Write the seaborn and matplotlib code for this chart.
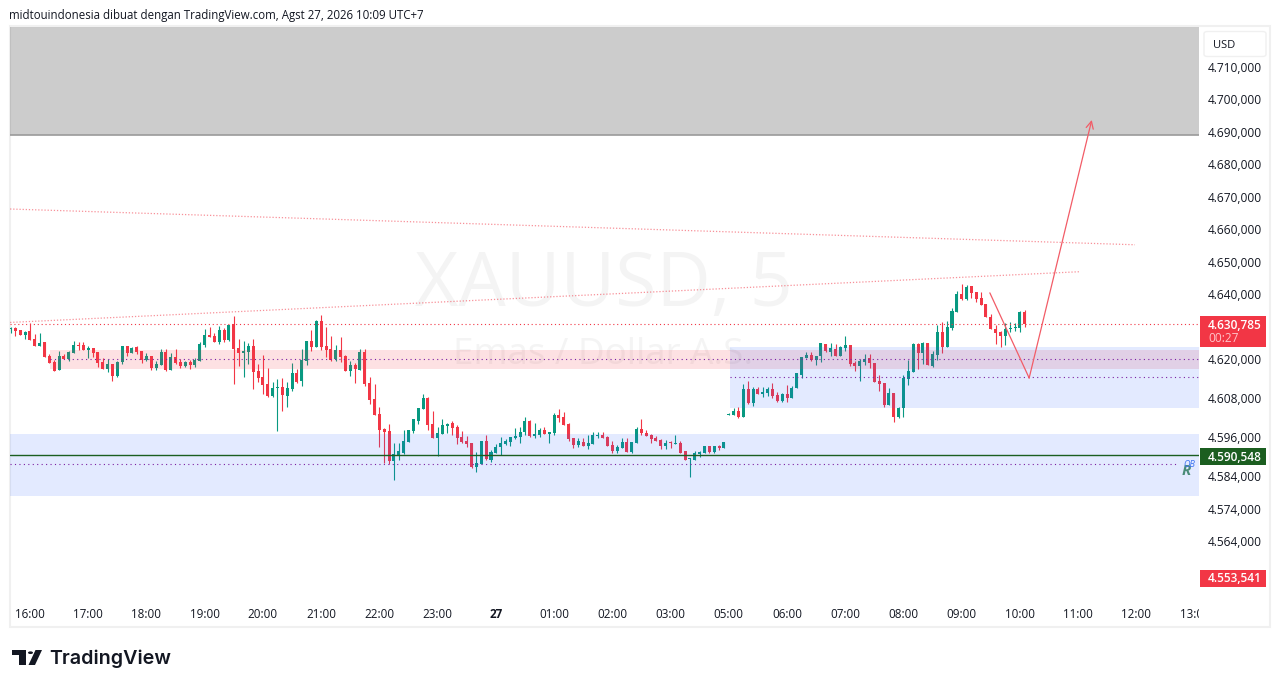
"""XAUUSD 5m candles with zones, levels and a drawn path, TradingView style."""
import numpy as np
import pandas as pd
import matplotlib
matplotlib.use("Agg")
import matplotlib.pyplot as plt
import seaborn as sns
from matplotlib.patches import Rectangle, FancyBboxPatch, Polygon, Circle
from matplotlib.transforms import Bbox

WIDTH, HEIGHT = 1281, 688

opens = [
    4629.2,4629.6,4629.0,4627.5,4628.7,4626.3,4624.1,4625.3,4621.0,4619.2,
    4616.7,4621.0,4620.1,4621.9,4624.4,4624.4,4622.9,4623.5,4622.3,4619.2,
    4617.0,4618.6,4614.9,4619.2,4624.1,4621.9,4623.8,4622.6,4619.8,4621.0,
    4617.3,4618.2,4622.3,4616.7,4620.7,4619.2,4617.9,4619.2,4618.2,4619.5,
    4624.4,4627.5,4627.2,4625.3,4629.0,4625.9,4630.9,4623.5,4621.9,4622.3,
    4624.1,4616.4,4614.6,4612.4,4608.7,4611.2,4611.5,4608.7,4610.9,4615.8,
    4613.3,4619.5,4625.6,4623.8,4631.8,4624.1,4623.2,4620.1,4622.9,4621.0,
    4616.4,4618.2,4616.7,4622.3,4612.7,4607.8,4603.2,4598.6,4597.9,4588.7,
    4590.2,4591.2,4594.5,4597.9,4601.0,4604.7,4608.1,4600.1,4595.8,4597.0,
    4599.5,4600.4,4599.2,4596.1,4594.9,4594.2,4586.9,4587.8,4594.9,4589.0,
    4591.2,4593.0,4593.9,4594.5,4595.8,4596.1,4597.6,4601.0,4596.4,4596.7,
    4598.2,4597.0,4597.3,4602.9,4602.2,4600.1,4595.8,4593.6,4594.5,4593.3,
    4593.9,4596.4,4596.7,4596.1,4593.6,4591.8,4592.7,4594.5,4591.5,4594.2,
    4598.6,4597.3,4596.7,4595.8,4595.2,4593.3,4594.4,4594.0,4594.2,4591.8,
    4589.3,4589.0,4590.9,4591.2,4593.3,4591.5,4593.3,4592.7,4602.9,4602.9,
    4604.1,4602.3,4610.9,4606.6,4610.9,4609.3,4609.6,4610.9,4609.0,4607.2,
    4609.3,4608.1,4611.2,4615.2,4620.4,4621.3,4619.8,4621.0,4624.7,4622.3,
    4623.2,4621.0,4623.5,4624.4,4618.9,4618.0,4619.2,4620.4,4618.9,4613.3,
    4612.7,4606.0,4609.6,4602.3,4605.0,4613.9,4616.1,4624.7,4622.0,4625.0,
    4618.0,4621.3,4628.4,4623.8,4629.6,4634.6,4640.1,4638.6,4642.6,4640.7,
    4638.9,4637.0,4633.0,4629.3,4628.4,4627.2,4629.3,4629.6,4629.6,4634.6,
]
highs = [
    4629.8,4629.9,4629.0,4628.7,4631.1,4627.8,4628.1,4625.3,4621.6,4619.8,
    4622.6,4621.6,4622.6,4625.6,4625.3,4625.3,4624.1,4623.5,4622.3,4620.4,
    4620.1,4618.6,4619.5,4624.1,4624.1,4623.8,4624.1,4622.6,4621.9,4621.0,
    4619.5,4623.2,4623.2,4621.9,4623.2,4620.1,4619.5,4619.8,4620.4,4625.3,
    4629.3,4629.9,4628.1,4630.3,4629.6,4630.6,4633.3,4626.3,4625.6,4625.0,
    4626.3,4618.6,4621.3,4617.3,4613.0,4613.9,4614.2,4613.0,4618.9,4617.0,
    4623.2,4625.6,4629.0,4632.1,4633.6,4629.9,4627.2,4624.4,4626.9,4621.3,
    4619.5,4618.9,4623.2,4623.2,4614.6,4612.4,4605.3,4598.9,4600.1,4594.2,
    4594.2,4598.2,4598.2,4601.6,4605.0,4609.3,4608.4,4604.1,4599.2,4601.6,
    4600.4,4601.0,4599.8,4597.9,4596.4,4594.2,4591.5,4594.9,4596.7,4592.1,
    4593.9,4596.1,4595.5,4596.1,4598.9,4599.2,4602.2,4601.3,4600.4,4598.9,
    4599.2,4597.6,4603.5,4604.7,4603.8,4600.4,4595.8,4595.8,4595.8,4596.7,
    4597.6,4597.6,4597.6,4596.4,4594.9,4593.6,4595.8,4595.8,4594.5,4599.2,
    4601.6,4598.2,4597.0,4596.4,4595.5,4595.2,4594.9,4596.7,4594.9,4591.8,
    4589.6,4591.8,4591.8,4593.3,4593.3,4593.3,4593.6,4594.5,4603.4,4605.0,
    4605.3,4612.4,4613.3,4611.5,4611.5,4611.5,4611.5,4612.7,4609.9,4609.6,
    4612.1,4611.8,4615.8,4620.7,4622.3,4622.3,4621.0,4625.0,4624.7,4625.0,
    4624.7,4624.1,4627.2,4624.4,4619.5,4620.1,4621.6,4621.6,4618.9,4615.2,
    4612.7,4611.2,4609.6,4605.3,4615.2,4619.8,4625.0,4625.0,4625.3,4625.0,
    4622.6,4630.6,4631.5,4631.8,4635.8,4641.0,4643.2,4642.9,4642.6,4640.7,
    4640.7,4637.0,4634.0,4630.6,4628.7,4631.2,4631.5,4631.2,4634.9,4635.2,
]
lows = [
    4628.2,4627.2,4627.5,4626.3,4625.9,4624.1,4624.1,4620.7,4618.9,4616.4,
    4616.7,4620.1,4619.5,4621.9,4622.9,4622.9,4620.4,4620.7,4617.6,4617.0,
    4616.1,4613.3,4614.6,4618.6,4621.0,4621.9,4621.6,4618.9,4619.5,4616.7,
    4616.7,4618.2,4616.4,4616.7,4618.6,4617.3,4617.6,4617.0,4617.6,4619.5,
    4623.8,4626.9,4625.3,4624.7,4625.3,4625.6,4612.4,4617.9,4614.6,4618.6,
    4610.9,4613.0,4609.3,4608.4,4608.4,4597.9,4604.1,4605.3,4610.2,4612.7,
    4611.8,4618.2,4622.6,4623.8,4622.9,4620.7,4619.5,4619.5,4619.2,4616.4,
    4614.9,4612.7,4616.7,4611.8,4606.2,4602.9,4593.0,4588.1,4587.8,4582.9,
    4589.0,4590.9,4594.5,4597.3,4600.1,4604.7,4598.2,4595.8,4590.2,4597.0,
    4597.3,4596.7,4593.9,4594.2,4593.0,4586.6,4585.3,4587.8,4589.0,4588.4,
    4591.2,4590.5,4593.6,4593.3,4595.5,4594.2,4596.7,4596.1,4595.8,4596.1,
    4597.0,4594.2,4596.7,4600.7,4599.8,4594.9,4592.7,4593.0,4593.3,4592.4,
    4593.9,4595.8,4595.8,4593.3,4591.2,4591.2,4592.7,4591.5,4591.2,4594.2,
    4596.7,4596.4,4594.2,4594.9,4592.4,4592.4,4592.7,4594.0,4591.2,4589.0,
    4583.8,4589.0,4589.9,4591.2,4591.2,4591.2,4592.1,4592.7,4602.9,4602.9,
    4601.9,4602.3,4606.3,4605.6,4609.3,4608.4,4608.7,4608.1,4606.9,4606.9,
    4606.9,4608.1,4611.2,4614.3,4620.4,4619.5,4618.3,4619.2,4622.3,4621.0,
    4621.0,4621.0,4622.6,4618.0,4616.4,4613.3,4618.3,4617.3,4613.0,4610.2,
    4605.3,4606.0,4600.7,4601.9,4602.3,4612.1,4616.1,4617.0,4618.6,4618.3,
    4617.6,4619.8,4622.0,4623.8,4629.0,4634.6,4638.3,4638.3,4638.9,4637.6,
    4636.7,4633.0,4629.3,4624.7,4623.8,4624.4,4628.4,4628.7,4628.4,4629.9,
]
closes = [
    4629.6,4628.7,4627.5,4628.4,4625.9,4624.1,4625.0,4620.7,4618.9,4616.4,
    4621.0,4620.1,4622.3,4624.4,4624.1,4622.9,4623.5,4621.9,4618.9,4617.0,
    4618.6,4614.9,4619.2,4624.1,4621.9,4623.5,4622.3,4619.8,4621.0,4617.3,
    4618.6,4622.3,4616.7,4620.7,4618.9,4617.9,4619.2,4618.2,4619.8,4624.7,
    4627.5,4626.9,4625.3,4629.0,4625.9,4630.6,4623.2,4621.9,4622.6,4624.1,
    4616.1,4614.2,4612.1,4608.7,4611.2,4611.5,4609.0,4611.2,4615.8,4613.0,
    4619.8,4625.6,4623.8,4631.8,4623.8,4622.9,4619.8,4622.9,4620.7,4616.4,
    4618.2,4617.0,4622.3,4612.4,4607.5,4602.9,4598.3,4597.6,4588.7,4590.9,
    4591.8,4594.9,4598.2,4601.6,4605.0,4608.1,4599.8,4595.8,4597.3,4599.8,
    4600.1,4598.9,4595.8,4594.5,4593.9,4586.9,4588.1,4594.9,4589.3,4591.5,
    4593.0,4594.2,4594.9,4596.1,4596.4,4597.6,4601.0,4596.4,4597.0,4598.2,
    4597.0,4597.6,4602.9,4601.9,4599.8,4595.5,4593.6,4594.9,4593.3,4594.2,
    4596.7,4596.7,4595.8,4593.3,4591.8,4593.0,4594.5,4591.5,4594.5,4598.6,
    4597.3,4596.4,4595.5,4594.9,4593.3,4594.2,4594.1,4594.2,4591.2,4589.0,
    4589.6,4591.2,4591.5,4593.3,4591.5,4593.3,4592.7,4594.5,4603.2,4604.1,
    4602.3,4610.9,4606.6,4610.9,4609.3,4609.9,4610.9,4608.7,4607.2,4609.3,
    4608.1,4611.2,4615.8,4620.7,4621.3,4619.8,4621.0,4625.0,4622.6,4623.5,
    4621.0,4623.8,4624.4,4618.6,4618.0,4619.5,4620.1,4618.9,4613.0,4612.4,
    4606.0,4609.6,4602.3,4605.0,4614.3,4616.4,4624.7,4622.0,4625.0,4618.3,
    4621.6,4628.4,4623.8,4629.9,4634.9,4640.1,4638.6,4642.2,4640.4,4638.6,
    4636.7,4633.0,4629.3,4628.1,4627.2,4629.3,4629.6,4629.9,4634.6,4630.785,
]

# axis texts
price_ticks = [4710, 4700, 4690, 4680, 4670, 4660, 4650, 4640, 4620, 4608,
               4596, 4584, 4574, 4564]
price_labels = ["4.710,000", "4.700,000", "4.690,000", "4.680,000", "4.670,000",
                "4.660,000", "4.650,000", "4.640,000", "4.620,000", "4.608,000",
                "4.596,000", "4.584,000", "4.574,000", "4.564,000"]
time_labels = ["16:00", "17:00", "18:00", "19:00", "20:00", "21:00", "22:00",
               "23:00", "27", "01:00", "02:00", "03:00", "05:00", "06:00",
               "07:00", "08:00", "09:00", "10:00", "11:00", "12:00", "13:00"]

# levels and zones, prices
last_price = 4630.785
green_level = 4590.548
low_badge = 4553.541
grey_zone = (4688.9, 4730.0)
low_blue_zone = (4578.0, 4597.0)
pink_zone = (4617.0, 4622.9)
high_blue_zone = (4605.0, 4623.8)
purple_levels = [4620.0, 4614.5, 4587.7]

# drawn lines: bar index, price
upper_trend = ([-0.1, 231.7], [4666.2, 4655.2])
lower_trend = ([-0.1, 220.2], [4631.3, 4646.9])
path_bars = [201.8, 209.9, 222.8]
path_prices = [4640.4, 4614.2, 4693.6]

GREEN = "#089981"
RED = "#F23645"
PURPLE = "#7B1FA2"
BLUE = "#2962FF"
INK = "#131722"
PATH = "#F25C67"

sns.set_theme(style="white")
plt.rcParams["font.family"] = ["Open Sans", "DejaVu Sans"]


def fx(px):
    return px / WIDTH


def fy(py):
    return 1 - py / HEIGHT


def fig_rect(fig, x0, y0, x1, y1, **kw):
    fig.add_artist(Rectangle((fx(x0), fy(y1)), (x1 - x0) / WIDTH, (y1 - y0) / HEIGHT,
                             transform=fig.transFigure, **kw))


df = pd.DataFrame({"open": opens, "high": highs, "low": lows, "close": closes})
df["bar"] = np.arange(len(df))
df["bottom"] = df[["open", "close"]].min(axis=1)
df["body"] = (df["close"] - df["open"]).abs().clip(lower=0.3)
up = df[df["close"] >= df["open"]]
down = df[df["close"] < df["open"]]

fig = plt.figure(figsize=(WIDTH / 100, HEIGHT / 100), dpi=100, facecolor="white")
fig_rect(fig, 10, 26, 1270, 627, facecolor="none", edgecolor="#F0F0F0", linewidth=1.5, zorder=0)

ax = fig.add_axes([fx(10), fy(600), 1189 / WIDTH, 573 / HEIGHT])
ax.patch.set_alpha(0)

# candles
for part, colour in ((up, GREEN), (down, RED)):
    ax.vlines(part["bar"], part["low"], part["high"], color=colour, linewidth=0.8, zorder=2)
    sns.barplot(x=part["bar"].to_numpy(), y=part["body"].to_numpy(), bottom=part["bottom"].to_numpy(),
                native_scale=True, width=0.62, color=colour, saturation=1, errorbar=None,
                linewidth=0, zorder=2, ax=ax)

xlim = (-0.12, 244.9)
ax.set_xlim(*xlim)
ax.set_ylim(4545.9, 4722.2)
ax.set_xlabel("")
ax.set_ylabel("")

# zones sit over the candles
ax.fill_between(xlim, *grey_zone, color="black", alpha=0.2, linewidth=0, zorder=3)
ax.axhline(grey_zone[0], color="#9A9A9A", linewidth=1.2, zorder=3)
ax.fill_between(xlim, *low_blue_zone, color=BLUE, alpha=0.13, linewidth=0, zorder=3)
ax.fill_between([8.1, xlim[1]], *pink_zone, color=RED, alpha=0.15, linewidth=0, zorder=3)
ax.fill_between([148.2, xlim[1]], *high_blue_zone, color=BLUE, alpha=0.13, linewidth=0, zorder=3)

# levels
ax.axhline(last_price, color=RED, linewidth=0.8, linestyle=(0, (1, 2.5)), zorder=4)
ax.axhline(green_level, color="#1B5E20", linewidth=1.0, zorder=4)
dot = (0, (1, 3))
ax.plot([8.1, xlim[1]], [purple_levels[0]] * 2, color=PURPLE, linewidth=0.8, linestyle=dot, zorder=4)
ax.plot([148.2, xlim[1]], [purple_levels[1]] * 2, color=PURPLE, linewidth=0.8, linestyle=dot, zorder=4)
ax.plot([xlim[0], 240.3], [purple_levels[2]] * 2, color=PURPLE, linewidth=0.8, linestyle=dot, zorder=4)

# trend lines and the drawn path
for bars, prices in (upper_trend, lower_trend):
    ax.plot(bars, prices, color=RED, alpha=0.55, linewidth=0.9, linestyle=(0, (1, 1.5)), zorder=4)
ax.plot(path_bars[:2], path_prices[:2], color=PATH, linewidth=0.9, zorder=5)
ax.annotate("", xy=(path_bars[2], path_prices[2]), xytext=(path_bars[1], path_prices[1]),
            arrowprops=dict(arrowstyle="->", color=PATH, linewidth=0.9,
                            shrinkA=0, shrinkB=0, mutation_scale=13), zorder=5)

# watermark
ax.text(fx(603.5), fy(287), "XAUUSD, 5", transform=fig.transFigure, ha="center", va="center",
        fontsize=54, color="#F4F4F4", zorder=0.5)
ax.text(fx(603), fy(355), "Emas / Dollar A.S.", transform=fig.transFigure, ha="center", va="center",
        fontsize=26.5, color="#F4F4F4", zorder=0.5)

# axes
sns.despine(ax=ax, left=True, bottom=True, right=True, top=True)
ax.yaxis.tick_right()
ax.set_yticks(price_ticks)
ax.set_yticklabels(price_labels)
ax.set_xticks(np.arange(len(time_labels)) * 12 + 4)
ax.set_xticklabels(time_labels)
ax.tick_params(axis="y", length=0, pad=6.5, labelsize=8.6, labelcolor=INK)
ax.tick_params(axis="x", length=0, pad=6, labelsize=8.4, labelcolor=INK)
ax.grid(False)
for lab in ax.get_xticklabels():
    if lab.get_text() == "27":
        lab.set_fontweight("bold")
ax.get_xticklabels()[-1].set_clip_box(Bbox([[0, 0], [1199, HEIGHT]]))
ax.get_xticklabels()[-1].set_clip_on(True)

# price axis badges
fig_rect(fig, 1200, 316, 1266, 347, facecolor=RED, edgecolor="none", zorder=6)
fig_rect(fig, 1200, 448, 1266, 465, facecolor="#1B5E20", edgecolor="none", zorder=6)
fig_rect(fig, 1200, 570, 1266, 587, facecolor=RED, edgecolor="none", zorder=6)
badge = dict(fontsize=8.6, fontweight="semibold", color="white", ha="left", va="center", zorder=7)
fig.text(fx(1208), fy(325), f"{last_price:.3f}".replace("4630.", "4.630,"), **badge)
fig.text(fx(1208), fy(338.5), "00:27", fontsize=8.6, color="#FFC4C9", ha="left", va="center", zorder=7)
fig.text(fx(1208), fy(457.5), f"{green_level:.3f}".replace("4590.", "4.590,"), **badge)
fig.text(fx(1208), fy(579), f"{low_badge:.3f}".replace("4553.", "4.553,"), **badge)

# currency box
fig.add_artist(FancyBboxPatch((fx(1204), fy(56.5)), 62 / WIDTH, 25 / HEIGHT,
                              boxstyle="round,pad=0,rounding_size=0.003", transform=fig.transFigure,
                              facecolor="white", edgecolor="#F0F0F0", linewidth=1, zorder=6))
fig.text(fx(1213), fy(45), "USD", fontsize=8.0, color=INK, ha="left", va="center", zorder=7)

# zone tags
fig.text(fx(1186.5), fy(471), "R", fontsize=11, fontstyle="italic", fontweight="bold",
         color="#4A8C78", ha="center", va="center", zorder=7)
fig.text(fx(1189.5), fy(464.5), "OB", fontsize=6.5, fontstyle="italic",
         color="#3D74F0", ha="center", va="center", zorder=8)

# header
fig.text(fx(9), fy(16), "midtouindonesia dibuat dengan TradingView.com, Agst 27, 2026 10:09 UTC+7",
         fontsize=8.3, color=INK, ha="left", va="center")

# TradingView logo
logo = "#131722"
for pts in ([(12, 650), (26, 650), (26, 665), (19, 665), (19, 655), (12, 655)],
            [(42, 650), (35.5, 650), (28.5, 665), (35, 665)]):
    fig.add_artist(Polygon([(fx(a), fy(b)) for a, b in pts], closed=True,
                           transform=fig.transFigure, facecolor=logo, edgecolor="none"))
fig.add_artist(Circle((fx(30.5), fy(652.7)), 2.5 / WIDTH, transform=fig.transFigure,
                      facecolor=logo, edgecolor="none"))
fig.text(fx(49), fy(658.5), "TradingView", fontsize=14.2, fontfamily="Inter", fontweight="semibold",
         color=logo, ha="left", va="center")

fig.savefig("out.png", dpi=100)
